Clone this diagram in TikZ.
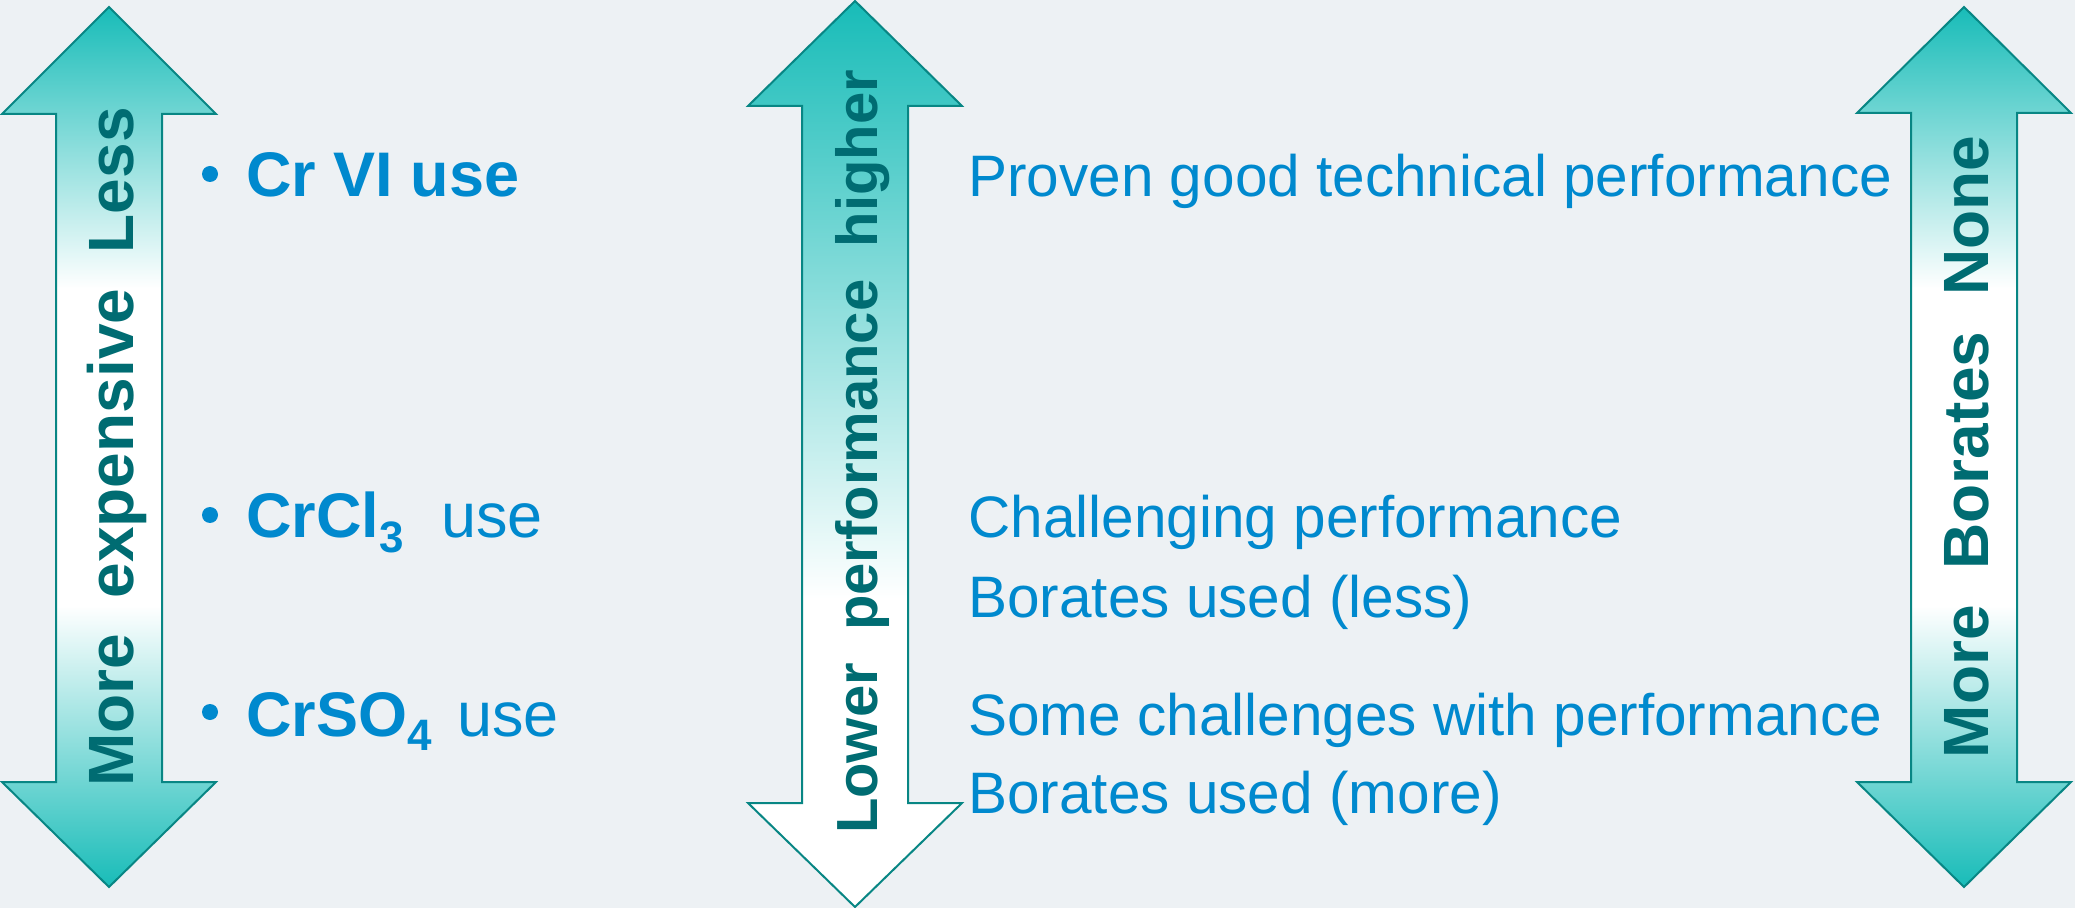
\documentclass[tikz,border=0pt]{standalone}
\usepackage{fontspec}
\setmainfont{Liberation Sans}
\definecolor{bgpanel}{RGB}{237,241,244}
\definecolor{arrowteal}{RGB}{24,188,184}
\definecolor{arrowedge}{RGB}{8,134,132}
\definecolor{labelteal}{RGB}{0,108,114}
\definecolor{textblue}{RGB}{0,137,206}
\pgfdeclareverticalshading{tealwhiteteal}{100bp}{color(0bp)=(arrowteal); color(25bp)=(arrowteal); color(41bp)=(white); color(59bp)=(white); color(75bp)=(arrowteal); color(100bp)=(arrowteal)}
\pgfdeclareverticalshading{whiteteal}{100bp}{color(0bp)=(white); color(42bp)=(white); color(75bp)=(arrowteal); color(100bp)=(arrowteal)}
\tikzset{
  arrowshape/.style={draw=arrowedge, line width=1pt, line join=miter},
  arrowlabel/.style={rotate=90, anchor=base, inner sep=0pt, text=labelteal, font=\bfseries\fontsize{32}{38}\selectfont},
  bulletdot/.style={circle, fill=textblue, inner sep=0pt, minimum size=8pt},
  bolditem/.style={anchor=base west, inner sep=0pt, text=textblue, font=\bfseries\fontsize{31.5}{38}\selectfont},
  plainitem/.style={anchor=base west, inner sep=0pt, text=textblue, font=\fontsize{29.25}{35}\selectfont}
}
\newcommand{\subidx}[1]{\raisebox{-7pt}{\fontsize{22}{26}\selectfont #1}}
\begin{document}
\begin{tikzpicture}[x=0.5pt, y=-0.5pt]
        \fill[bgpanel] (0,0) rectangle (2075,908);
        \useasboundingbox (0,0) rectangle (2075,908);
        % the three arrows
        \shadedraw[arrowshape, shading=tealwhiteteal] (109,7)--(216,114)--(162,114)--(162,782)--(216,782)--(109,887)--(2,782)--(56,782)--(56,114)--(2,114)--cycle;
        \shadedraw[arrowshape, shading=whiteteal] (855,1)--(962,106)--(908,106)--(908,803)--(962,803)--(855,907)--(748,803)--(802,803)--(802,106)--(748,106)--cycle;
        \shadedraw[arrowshape, shading=tealwhiteteal] (1964,7)--(2071,113)--(2017,113)--(2017,782)--(2071,782)--(1964,887)--(1857,782)--(1911,782)--(1911,113)--(1857,113)--cycle;
        \node[arrowlabel] (cost) at (133,447) {More~~expensive~~Less};
        \node[arrowlabel, font=\bfseries\fontsize{29}{35}\selectfont] (perf) at (877,452) {Lower~~performance~~higher};
        \node[arrowlabel] (borates) at (1988,447) {More~~Borates~~None};
        % chromium types
        \node[bulletdot] (dotvi) at (210,174) {};
        \node[bulletdot] (dotcl) at (210,515) {};
        \node[bulletdot] (dotso) at (210,712) {};
        \node[bolditem] (crvi) at (246,197) {Cr VI use};
        \node[bolditem] (crcl) at (246,538) {CrCl\subidx{3}\hspace{18.75pt}{\mdseries use}};
        \node[bolditem] (crso) at (246,736) {CrSO\subidx{4}\hspace{12.75pt}{\mdseries use}};
        % performance notes
        \node[plainitem] (proven) at (968,197) {Proven good technical performance};
        \node[plainitem] (challenging) at (968,538) {Challenging performance};
        \node[plainitem] (lessused) at (968,617) {Borates used (less)};
        \node[plainitem] (some) at (968,735) {Some challenges with performance};
        \node[plainitem] (moreused) at (968,813) {Borates used (more)};
\end{tikzpicture}
\end{document}
